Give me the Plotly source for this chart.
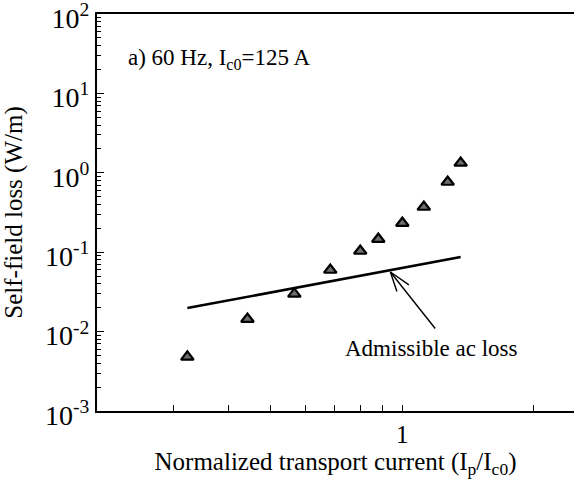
import math
import plotly.graph_objects as go

# Measured data (normalized current, self-field loss W/m)
current = [0.322, 0.442, 0.566, 0.684, 0.801, 0.881, 1.0, 1.12, 1.27, 1.36]
loss = [0.0048, 0.0144, 0.0298, 0.0597, 0.1035, 0.1465, 0.233, 0.371, 0.766, 1.33]

# Admissible ac loss line
adm_x = [0.322, 1.36]
adm_y = [0.0198, 0.087]

y_tickvals = [1e-3, 1e-2, 1e-1, 1e0, 1e1, 1e2]
y_ticktext = ["10<sup>-3</sup>", "10<sup>-2</sup>", "10<sup>-1</sup>",
              "10<sup>0</sup>", "10<sup>1</sup>", "10<sup>2</sup>"]
x_tickvals = [0.3, 0.4, 0.5, 0.6, 0.7, 0.8, 0.9, 1, 2]
x_ticktext = ["", "", "", "", "", "", "", "1", ""]

arrow_tip = (0.939, 0.0564)
label_pos = (1.165, 0.0062)

FONT = "Liberation Serif"
L = math.log10

fig = go.Figure()
fig.add_trace(go.Scatter(x=adm_x, y=adm_y, mode="lines",
                         line=dict(color="black", width=2.6), showlegend=False))
fig.add_trace(go.Scatter(x=current, y=loss, mode="markers",
                         marker=dict(symbol="triangle-up", size=11, color="#6e6e6e",
                                     line=dict(color="black", width=2.2)),
                         showlegend=False))

# arrow: shaft and two head strokes (annotation coords on log axes are log10)
for ax, ay in [(46, 58), (20, 14), (7, 21)]:
    fig.add_annotation(x=L(arrow_tip[0]), y=L(arrow_tip[1]), xref="x", yref="y",
                       ax=ax, ay=ay, text="", showarrow=True, arrowhead=0,
                       arrowwidth=1.4, arrowcolor="black", standoff=0, startstandoff=0)

fig.add_annotation(x=L(label_pos[0]), y=L(label_pos[1]), xref="x", yref="y",
                   text="Admissible ac loss", showarrow=False,
                   font=dict(family=FONT, size=23, color="black"))

fig.add_annotation(x=0.061, y=0.927, xref="paper", yref="paper", xanchor="left",
                   text="a) 60 Hz, I<sub>c0</sub>=125 A", showarrow=False,
                   font=dict(family=FONT, size=23, color="black"))

fig.update_layout(
    width=574, height=490,
    margin=dict(l=97, r=0, t=14, b=79),
    paper_bgcolor="white", plot_bgcolor="white",
    font=dict(family=FONT, color="black"),
    xaxis=dict(type="log", range=[-0.699, 0.393], automargin=False,
               tickvals=x_tickvals, ticktext=x_ticktext,
               ticks="inside", ticklen=6, tickwidth=1.3, tickcolor="black",
               showline=True, linecolor="black", linewidth=2, mirror=True,
               showgrid=False, zeroline=False,
               tickfont=dict(family=FONT, size=25),
               title=dict(text="Normalized transport current (I<sub>p</sub>/I<sub>c0</sub>)",
                          font=dict(family=FONT, size=25), standoff=5)),
    yaxis=dict(type="log", range=[-3, 2], automargin=False,
               tickvals=y_tickvals, ticktext=y_ticktext,
               ticklabeloverflow="allow", ticklabelshift=4,
               ticks="inside", ticklen=7, tickwidth=1.3, tickcolor="black",
               minor=dict(ticks="inside", ticklen=4, tickcolor="black", tickwidth=1,
                          dtick="D1", showgrid=False),
               showline=True, linecolor="black", linewidth=2,
               showgrid=False, zeroline=False,
               tickfont=dict(family=FONT, size=28),
               title=dict(text="Self-field loss (W/m)",
                          font=dict(family=FONT, size=25), standoff=16)),
)

fig.write_html("out.html")
